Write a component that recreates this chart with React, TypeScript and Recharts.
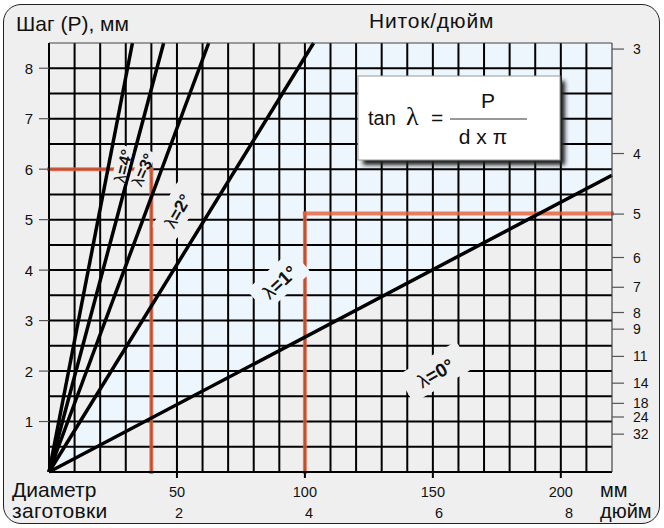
import React from 'react';
import {
  ComposedChart, Area, XAxis, YAxis, ReferenceDot, ReferenceLine,
} from 'recharts';

// ---- data ----
const mmGridTicks = [0, 10, 20, 30, 40, 50, 60, 70, 80, 90, 100, 110, 120, 130, 140, 150, 160, 170, 180, 190, 200, 210];
const mmLabelValues = [50, 100, 150, 200];
const inchTicks = [50.8, 101.6, 152.4, 203.2];
const inchLabels = ['2', '4', '6', '8'];
const pitchGridTicks = [0, 0.5, 1, 1.5, 2, 2.5, 3, 3.5, 4, 4.5, 5, 5.5, 6, 6.5, 7, 7.5, 8];
const pitchLabelValues = [1, 2, 3, 4, 5, 6, 7, 8];
const threadTicks = [8.38, 6.31, 5.11, 4.25, 3.66, 3.16, 2.83, 2.29, 1.76, 1.36, 1.09, 0.75];
const threadLabels = ['3', '4', '5', '6', '7', '8', '9', '11', '14', '18', '24', '32'];

// end points of the λ lines (all start at the origin)
const lambdaLineEnds = [
  { x: 32.6, y: 8.5 },
  { x: 44.8, y: 8.5 },
  { x: 62.4, y: 8.5 },
  { x: 103.4, y: 8.5 },
  { x: 220, y: 5.88 },
];

const blueRegion = [
  { x: 0, range: [0, 0] },
  { x: 103.4, range: [2.76, 8.5] },
  { x: 220, range: [5.88, 8.5] },
];

const orangePath1 = [{ x: 0, y: 6 }, { x: 40, y: 6 }, { x: 40, y: 0 }];
const orangePath2 = [{ x: 100, y: 0 }, { x: 100, y: 5.12 }, { x: 220, y: 5.12 }];

const lambdaLabelText = ['=4°', '=3°', '=2°', '=1°', '=0°'];
const lambdaLabelX = [28.5, 36.3, 50, 89.8, 150.8];
const lambdaLabelY = [6.07, 6.0, 5.18, 3.78, 1.98];
const lambdaLabelAngle = [-76, -66, -60, -42, -30];
const lambdaLabelSize = [16.5, 16.5, 17.5, 19, 19];
const lambdaLabelBg = ['#efefef', '#efefef', '#efefef', '#eef6fd', '#efefef'];
const lambdaLabelBox = [[40, 14], [40, 14], [54, 28], [60, 30], [68, 32]];

const FONT = '"Liberation Sans", Arial, Helvetica, sans-serif';

const LeftTick = (props: any) => {
  const { x, y, payload } = props;
  const v = payload.value;
  if (!pitchLabelValues.includes(v)) return <g />;
  return (
    <g>
      <line x1={x - 10} x2={x} y1={y} y2={y} stroke="#555" strokeWidth={1.2} />
      <text x={x - 16} y={y} textAnchor="end" dominantBaseline="central" fontSize={15} fill="#111" fontFamily={FONT}>{v}</text>
    </g>
  );
};

const RightTick = (props: any) => {
  const { x, y, index } = props;
  return (
    <g>
      <line x1={x} x2={x + 12} y1={y} y2={y} stroke="#555" strokeWidth={1.2} />
      <text x={x + 21} y={y} textAnchor="start" dominantBaseline="central" fontSize={14} fill="#111" fontFamily={FONT}>{threadLabels[index]}</text>
    </g>
  );
};

const MmTick = (props: any) => {
  const { x, y, payload } = props;
  const v = payload.value;
  if (!mmLabelValues.includes(v)) return <g />;
  return (
    <g>
      <line x1={x} x2={x} y1={y} y2={y + 6} stroke="#000" strokeWidth={2} />
      <text x={x} y={y + 25} textAnchor="middle" fontSize={14.5} fill="#111" fontFamily={FONT}>{v}</text>
    </g>
  );
};

const InchTick = (props: any) => {
  const { x, y, index } = props;
  return (
    <text x={x} y={y + 18} textAnchor="middle" fontSize={14.5} fill="#111" fontFamily={FONT}>{inchLabels[index]}</text>
  );
};

const makeLabelShape = (i: number) => (props: any) => {
  const { cx, cy } = props;
  const [w, h] = lambdaLabelBox[i];
  return (
    <g transform={`translate(${cx},${cy}) rotate(${lambdaLabelAngle[i]})`}>
      <rect x={-w / 2} y={-h / 2} width={w} height={h} rx={4} fill={lambdaLabelBg[i]} />
      <text x={0} y={1} textAnchor="middle" dominantBaseline="central" fontSize={lambdaLabelSize[i]} fontFamily={FONT} fill="#111">
        <tspan fontWeight="normal">λ</tspan>
        <tspan fontWeight="bold">{lambdaLabelText[i]}</tspan>
      </text>
    </g>
  );
};

const AX = { xAxisId: 'a_mm', yAxisId: 'left' };

export default function App() {
  const orangeSegs: any[] = [];
  [orangePath1, orangePath2].forEach((p) => {
    for (let k = 0; k < p.length - 1; k++) orangeSegs.push([p[k], p[k + 1]]);
  });
  return (
    <div style={{ position: 'absolute', left: 0, top: 0, width: 664, height: 528, background: '#fff', fontFamily: FONT }}>
      <div style={{
        position: 'absolute', left: 3, top: 4, width: 657, height: 520, boxSizing: 'border-box',
        border: '1.5px solid #222', borderRadius: 18, background: '#efefef',
      }} />
      <div style={{ position: 'absolute', left: 0, top: 0 }}>
        <ComposedChart width={664} height={528} margin={{ top: 43, right: 0, left: 0, bottom: 0 }}>
          <XAxis xAxisId="a_mm" dataKey="x" type="number" domain={[0, 220]} ticks={mmGridTicks}
            allowDataOverflow height={28} tickSize={0} tickMargin={0} interval={0}
            axisLine={{ stroke: '#000', strokeWidth: 2 }} tick={<MmTick />} />
          <XAxis xAxisId="b_in" dataKey="x" type="number" domain={[0, 220]} ticks={inchTicks}
            allowDataOverflow height={28} tickSize={0} tickMargin={0} interval={0}
            axisLine={false} tickLine={false} tick={<InchTick />} />
          <YAxis yAxisId="left" type="number" domain={[0, 8.5]} ticks={pitchGridTicks} width={49}
            allowDataOverflow tickSize={0} tickMargin={0} interval={0}
            axisLine={{ stroke: '#000', strokeWidth: 2 }} tick={<LeftTick />} />
          <YAxis yAxisId="right" orientation="right" type="number" domain={[0, 8.5]} ticks={threadTicks} width={52}
            allowDataOverflow tickSize={0} tickMargin={0} interval={0}
            axisLine={{ stroke: '#444', strokeWidth: 1.2 }} tick={<RightTick />} />
          <Area {...AX} data={blueRegion} dataKey="range" type="linear"
            stroke="none" fill="#eef6fd" fillOpacity={1} isAnimationActive={false} />
          {mmGridTicks.map((v) => (
            <ReferenceLine key={'gx' + v} {...AX} x={v} stroke="#000" strokeWidth={2} />
          ))}
          {pitchGridTicks.map((v) => (
            <ReferenceLine key={'gy' + v} {...AX} y={v} stroke="#000" strokeWidth={2} />
          ))}
          {lambdaLabelText.map((t, i) => (
            <ReferenceDot key={t} {...AX} x={lambdaLabelX[i]} y={lambdaLabelY[i]} shape={makeLabelShape(i)} />
          ))}
          {orangeSegs.map((s, i) => (
            <ReferenceLine key={'o' + i} {...AX} segment={s} stroke="#e5603c" strokeOpacity={0.82}
              strokeWidth={4} strokeLinecap="square" />
          ))}
          {lambdaLineEnds.map((e, i) => (
            <ReferenceLine key={'l' + i} {...AX} segment={[{ x: 0, y: 0 }, e]} stroke="#000" strokeWidth={3.5} />
          ))}
        </ComposedChart>
      </div>
      <svg width={664} height={528} style={{ position: 'absolute', left: 0, top: 0, pointerEvents: 'none' }}>
        <defs>
          <filter id="blur" x="-20%" y="-20%" width="140%" height="140%">
            <feGaussianBlur stdDeviation="2" />
          </filter>
        </defs>
        <line x1={49} x2={612} y1={43} y2={43} stroke="#444" strokeWidth={1.2} />
        <text x={16} y={31} fontSize={21} fill="#111" fontFamily={FONT}>Шаг (P), мм</text>
        <text x={369} y={28} fontSize={21} letterSpacing={0.8} fill="#111" fontFamily={FONT}>Ниток/дюйм</text>
        <text x={12} y={497} fontSize={21} fill="#111" fontFamily={FONT}>Диаметр</text>
        <text x={12} y={518} fontSize={21} letterSpacing={0.3} fill="#111" fontFamily={FONT}>заготовки</text>
        <text x={600} y={497} fontSize={20} fill="#111" fontFamily={FONT}>мм</text>
        <text x={600} y={518} fontSize={20} fill="#111" fontFamily={FONT}>дюйм</text>
        <rect x={363} y={81} width={202} height={84} fill="#222" filter="url(#blur)" />
        <rect x={358} y={76} width={202} height={84} fill="#fff" stroke="#999" strokeWidth={1} />
        <text x={368} y={125} fontSize={20} fill="#111" fontFamily={FONT}>tan</text>
        <text x={406} y={125} fontSize={26} fill="#111" fontFamily='"Liberation Serif", serif'>λ</text>
        <text x={431} y={125} fontSize={21} fill="#111" fontFamily={FONT}>=</text>
        <line x1={450} x2={527} y1={119} y2={119} stroke="#333" strokeWidth={1} />
        <text x={488} y={108} fontSize={21} textAnchor="middle" fill="#111" fontFamily={FONT}>P</text>
        <text x={483} y={144} fontSize={21} textAnchor="middle" fill="#111" fontFamily={FONT}>d x π</text>
      </svg>
    </div>
  );
}
